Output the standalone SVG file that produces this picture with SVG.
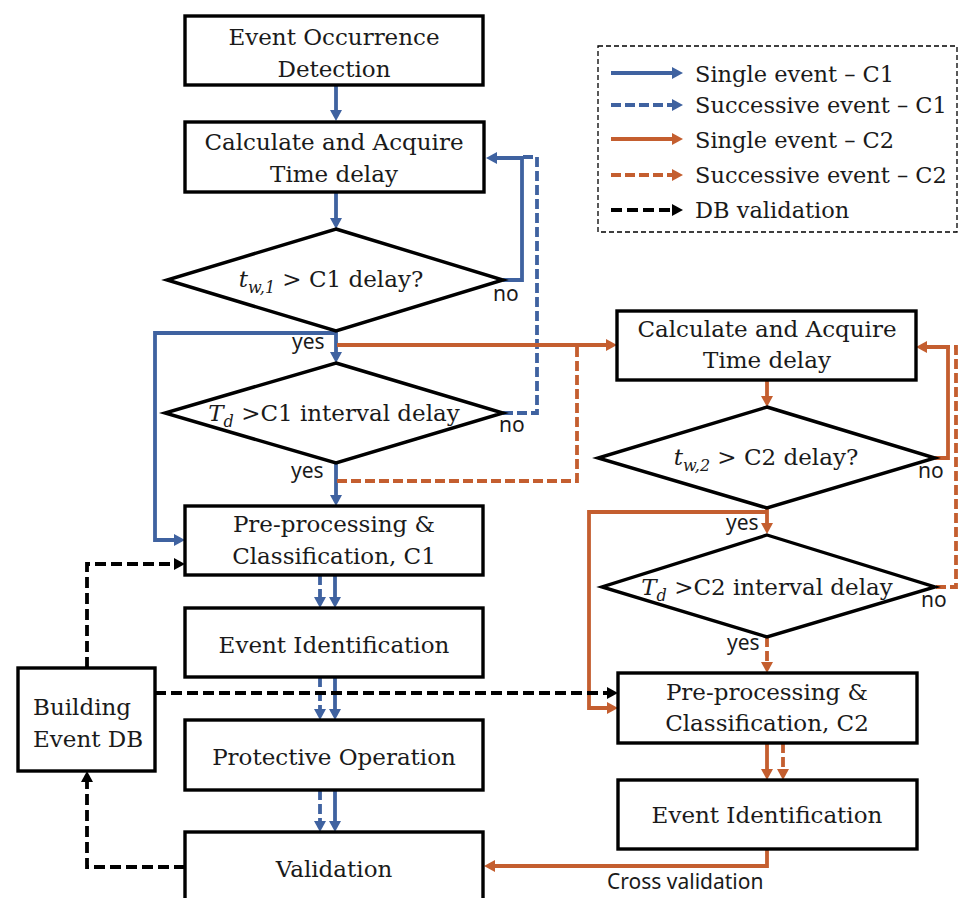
<svg xmlns="http://www.w3.org/2000/svg" width="959" height="898" viewBox="0 0 959 898">
<style>
.box{fill:#fff;stroke:#000;stroke-width:3.4}
.t{font-family:"DejaVu Serif","Liberation Serif",serif;font-size:23px;fill:#1a1a1a;text-anchor:middle}
.lg{font-family:"DejaVu Serif","Liberation Serif",serif;font-size:22.5px;fill:#1a1a1a}
.s{font-family:"Noto Sans","Open Sans",sans-serif;font-size:21px;fill:#1a1a1a}
.i{font-style:italic}
.sub{font-style:italic;font-size:16px}
.c{fill:none;stroke-width:3.8}
.b{stroke:#3F62A0}
.o{stroke:#C45E2F}
.k{stroke:#000}
.d{stroke-dasharray:10 4}
.dk{stroke-dasharray:11 5}
</style>
<defs>
<marker id="ab" viewBox="0 0 11 12" markerWidth="11" markerHeight="12" refX="3" refY="6" orient="auto" markerUnits="userSpaceOnUse"><path d="M0,0 L11,6 L0,12 z" fill="#3F62A0"/></marker>
<marker id="ao" viewBox="0 0 11 12" markerWidth="11" markerHeight="12" refX="3" refY="6" orient="auto" markerUnits="userSpaceOnUse"><path d="M0,0 L11,6 L0,12 z" fill="#C45E2F"/></marker>
<marker id="ak" viewBox="0 0 11 12" markerWidth="11" markerHeight="12" refX="3" refY="6" orient="auto" markerUnits="userSpaceOnUse"><path d="M0,0 L11,6 L0,12 z" fill="#000"/></marker>
</defs>

<g id="legend">
<rect x="598" y="46" width="359" height="186" fill="none" stroke="#000" stroke-width="1.3" stroke-dasharray="5 3"/>
<path class="c b" d="M611,73 H675" marker-end="url(#ab)"/>
<path class="c b d" d="M611,105 H675" marker-end="url(#ab)"/>
<path class="c o" d="M611,139 H675" marker-end="url(#ao)"/>
<path class="c o d" d="M611,175 H675" marker-end="url(#ao)"/>
<path class="c k dk" d="M611,210 H675" marker-end="url(#ak)"/>
<text class="lg" x="695" y="82">Single event – C1</text>
<text class="lg" x="695" y="113">Successive event – C1</text>
<text class="lg" x="695" y="148">Single event – C2</text>
<text class="lg" x="695" y="183">Successive event – C2</text>
<text class="lg" x="695" y="218">DB validation</text>
</g>

<g id="connectors">
<path class="c b" d="M336,85 V113" marker-end="url(#ab)"/>
<path class="c b" d="M336,192 V221" marker-end="url(#ab)"/>
<path class="c b" d="M336,331 V355" marker-end="url(#ab)"/>
<path class="c b" d="M503,280 H522 V158 H494" marker-end="url(#ab)"/>
<path class="c b" d="M336,333 H155 V540 H177" marker-end="url(#ab)"/>
<path class="c b" d="M336,463 V498" marker-end="url(#ab)"/>
<path class="c b" d="M335,575 V600" marker-end="url(#ab)"/>
<path class="c b" d="M335,677 V712" marker-end="url(#ab)"/>
<path class="c b" d="M335,790 V824" marker-end="url(#ab)"/>
<path class="c b d" d="M503,413 H537 V157 H522"/>
<path class="c b d" d="M320,575 V600" marker-end="url(#ab)"/>
<path class="c b d" d="M320,677 V712" marker-end="url(#ab)"/>
<path class="c b d" d="M320,790 V824" marker-end="url(#ab)"/>

<path class="c o" d="M337,345 H609" marker-end="url(#ao)"/>
<path class="c o" d="M767,380 V399" marker-end="url(#ao)"/>
<path class="c o" d="M935,458 H948 V347 H924" marker-end="url(#ao)"/>
<path class="c o" d="M767,508 V526" marker-end="url(#ao)"/>
<path class="c o" d="M767,512 H589 V708 H610" marker-end="url(#ao)"/>
<path class="c o" d="M767,743 V772" marker-end="url(#ao)"/>
<path class="c o" d="M767,849 V866 H492" marker-end="url(#ao)"/>
<path class="c o d" d="M577,347 V481 H337"/>
<path class="c o d" d="M936,587 H956 V347 H948"/>
<path class="c o d" d="M767,637 V665" marker-end="url(#ao)"/>
<path class="c o d" d="M783,743 V772" marker-end="url(#ao)"/>

<path class="c k dk" d="M155,693 H610" marker-end="url(#ak)"/>
<path class="c k dk" d="M87,668 V564 H177" marker-end="url(#ak)"/>
<path class="c k dk" d="M185,867 H87 V779" marker-end="url(#ak)"/>
</g>

<g id="labels">
<text class="s" x="493" y="301">no</text>
<text class="s" x="292" y="349">yes</text>
<text class="s" x="499" y="432">no</text>
<text class="s" x="291" y="478">yes</text>
<text class="s" x="918" y="478">no</text>
<text class="s" x="726" y="530">yes</text>
<text class="s" x="921" y="607">no</text>
<text class="s" x="727" y="650">yes</text>
<text class="s" x="607" y="889">Cross validation</text>
</g>

<g id="n1"><rect class="box" x="185" y="16" width="298" height="69"/>
<text class="t" x="334" y="45">Event Occurrence</text><text class="t" x="334" y="77">Detection</text></g>
<g id="n2"><rect class="box" x="185" y="122" width="299" height="70"/>
<text class="t" x="334" y="150">Calculate and Acquire</text><text class="t" x="334" y="182">Time delay</text></g>
<g id="d1"><polygon class="box" points="336,229 503,280 336,331 167,280"/>
<text class="t" x="331" y="287"><tspan class="i">t</tspan><tspan class="sub" dy="6">w,1</tspan><tspan dy="-6"> &gt; C1 delay?</tspan></text></g>
<g id="d2"><polygon class="box" points="336,363 503,413 336,463 165,413"/>
<text class="t" x="334" y="421"><tspan class="i">T</tspan><tspan class="sub" dy="6">d</tspan><tspan dy="-6"> &gt;C1 interval delay</tspan></text></g>
<g id="n3"><rect class="box" x="185" y="506" width="298" height="69"/>
<text class="t" x="334" y="532">Pre-processing &amp;</text><text class="t" x="334" y="564">Classification, C1</text></g>
<g id="n4"><rect class="box" x="185" y="608" width="298" height="69"/>
<text class="t" x="334" y="653">Event Identification</text></g>
<g id="n5"><rect class="box" x="185" y="720" width="298" height="70"/>
<text class="t" x="334" y="765">Protective Operation</text></g>
<g id="n6"><rect class="box" x="185" y="832" width="298" height="80"/>
<text class="t" x="334" y="877">Validation</text></g>
<g id="db"><rect class="box" x="18" y="668" width="137" height="103"/>
<text class="t" x="33" y="715" style="text-anchor:start">Building</text><text class="t" x="33" y="747" style="text-anchor:start">Event DB</text></g>

<g id="m1"><rect class="box" x="617" y="311" width="299" height="69"/>
<text class="t" x="767" y="337">Calculate and Acquire</text><text class="t" x="767" y="368">Time delay</text></g>
<g id="d3"><polygon class="box" points="767,407 935,458 767,508 598,458"/>
<text class="t" x="766" y="465"><tspan class="i">t</tspan><tspan class="sub" dy="6">w,2</tspan><tspan dy="-6"> &gt; C2 delay?</tspan></text></g>
<g id="d4"><polygon class="box" points="767,535 935,587 767,637 602,587"/>
<text class="t" x="767" y="595"><tspan class="i">T</tspan><tspan class="sub" dy="6">d</tspan><tspan dy="-6"> &gt;C2 interval delay</tspan></text></g>
<g id="m2"><rect class="box" x="618" y="673" width="299" height="70"/>
<text class="t" x="767" y="700">Pre-processing &amp;</text><text class="t" x="767" y="731">Classification, C2</text></g>
<g id="m3"><rect class="box" x="618" y="780" width="299" height="69"/>
<text class="t" x="767" y="823">Event Identification</text></g>
</svg>
